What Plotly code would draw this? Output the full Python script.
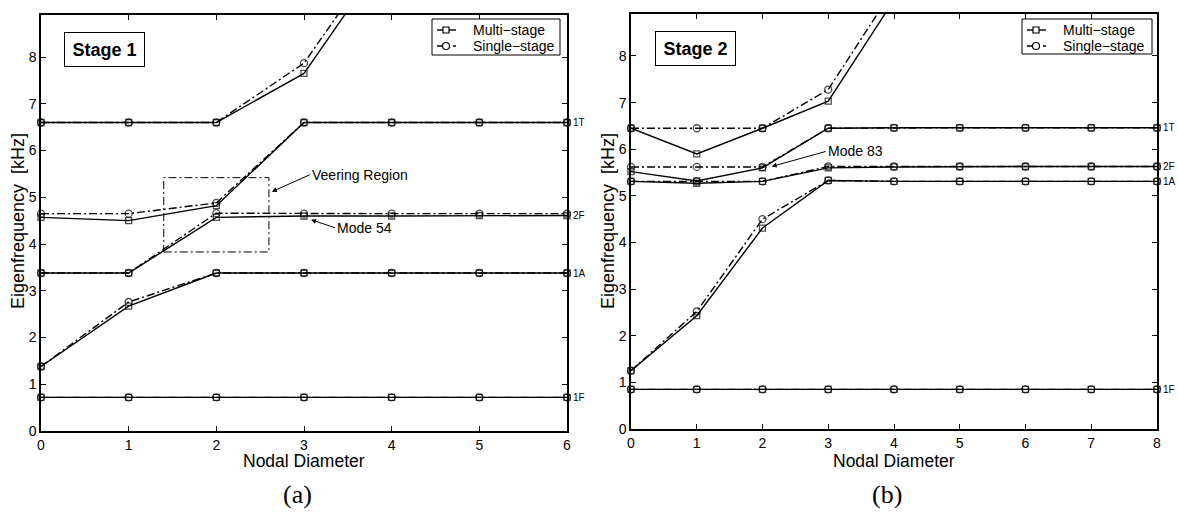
import plotly.graph_objects as go

# ---- Stage 1 eigenfrequencies [kHz] vs nodal diameter ----
s1_nd = [0, 1, 2, 3, 4, 5, 6]
s1_multi = [
    [0.72, 0.72, 0.72, 0.72, 0.72, 0.72, 0.72],
    [1.38, 2.67, 3.38, 3.38, 3.38, 3.38, 3.38],
    [3.38, 3.38, 4.57, 4.60, 4.60, 4.61, 4.61],
    [4.57, 4.50, 4.82, 6.60, 6.60, 6.60, 6.60],
    [6.60, 6.60, 6.60, 7.65, 10.35],
]
s1_single = [
    [0.72, 0.72, 0.72, 0.72, 0.72, 0.72, 0.72],
    [1.38, 2.76, 3.38, 3.38, 3.38, 3.38, 3.38],
    [3.38, 3.38, 4.66, 4.65, 4.65, 4.65, 4.65],
    [4.65, 4.65, 4.88, 6.60, 6.60, 6.60, 6.60],
    [6.60, 6.60, 6.60, 7.87, 10.55],
]

# ---- Stage 2 ----
s2_nd = [0, 1, 2, 3, 4, 5, 6, 7, 8]
s2_multi = [
    [0.85, 0.85, 0.85, 0.85, 0.85, 0.85, 0.85, 0.85, 0.85],
    [1.25, 2.43, 4.31, 5.33, 5.31, 5.31, 5.31, 5.31, 5.31],
    [5.31, 5.27, 5.31, 5.60, 5.62, 5.63, 5.63, 5.63, 5.63],
    [5.52, 5.32, 5.60, 6.45, 6.46, 6.46, 6.46, 6.46, 6.46],
    [6.45, 5.90, 6.45, 7.03, 9.20],
]
s2_single = [
    [0.85, 0.85, 0.85, 0.85, 0.85, 0.85, 0.85, 0.85, 0.85],
    [1.25, 2.52, 4.50, 5.33, 5.31, 5.31, 5.31, 5.31, 5.31],
    [5.31, 5.31, 5.31, 5.63, 5.63, 5.63, 5.63, 5.63, 5.63],
    [5.62, 5.62, 5.62, 6.45, 6.46, 6.46, 6.46, 6.46, 6.46],
    [6.45, 6.45, 6.45, 7.28, 9.45],
]

# family labels at the right edge, from the lowest curve upward
mode_labels = ["1F", "1A", "2F", "1T"]
series_names = ["Multi\u2212stage", "Single\u2212stage"]

Y_MAX = 8.9
W, H = 1178, 513
FONT = "Liberation Sans, Arial, Helvetica, sans-serif"
DASHDOT = "8px,3px,2px,3px"
LINE_W = 1.4


def px(x):
    return x / W


def py(y):
    return 1 - y / H


fig = go.Figure()


def add_series(nd, curves, name, symbol, size, dash, xa, ya):
    for vals in curves:
        xs = nd[:len(vals)]
        sizes = [size if v <= Y_MAX else 0 for v in vals]
        fig.add_trace(go.Scatter(
            x=xs, y=vals, mode="lines+markers", name=name,
            line=dict(color="black", width=LINE_W, dash=dash),
            marker=dict(symbol=symbol, size=sizes, color="black",
                        line=dict(color="black", width=1.3)),
            xaxis=xa, yaxis=ya, cliponaxis=False, showlegend=False,
        ))


add_series(s1_nd, s1_multi, series_names[0], "square-open", 6, "solid", "x", "y")
add_series(s1_nd, s1_single, series_names[1], "circle-open", 7, DASHDOT, "x", "y")
add_series(s2_nd, s2_multi, series_names[0], "square-open", 6, "solid", "x2", "y2")
add_series(s2_nd, s2_single, series_names[1], "circle-open", 7, DASHDOT, "x2", "y2")

axis_common = dict(
    showline=True, linecolor="black", linewidth=1.5, mirror="allticks",
    ticks="inside", ticklen=5, tickwidth=1, tickcolor="black",
    showgrid=False, zeroline=False, automargin=False,
    tickfont=dict(size=14, family=FONT, color="black"),
)

left_dom = [px(41), px(567)]
right_dom = [px(631), px(1157)]
y_dom1 = [py(431), py(15)]
y_dom2 = [py(429), py(14)]

fig.update_layout(
    template="none",
    width=W, height=H,
    margin=dict(l=0, r=0, t=0, b=0, autoexpand=False),
    paper_bgcolor="white", plot_bgcolor="white",
    font=dict(family=FONT, color="black"),
    showlegend=False,
    xaxis=dict(domain=left_dom, range=[0, 6], dtick=1, anchor="y", **axis_common),
    yaxis=dict(domain=y_dom1, range=[0, Y_MAX], dtick=1, anchor="x", **axis_common),
    xaxis2=dict(domain=right_dom, range=[0, 8], dtick=1, anchor="y2", **axis_common),
    yaxis2=dict(domain=y_dom2, range=[0, Y_MAX], dtick=1, anchor="x2", **axis_common),
)

shapes = []
# veering region box
shapes.append(dict(type="rect", xref="x", yref="y", x0=1.40, x1=2.60, y0=3.83, y1=5.42,
                   line=dict(color="black", width=1, dash=DASHDOT)))

ann = []


def legend_box(left, top, right, bottom):
    """Framed key: solid line with square, dash-dot line with circle."""
    shapes.append(dict(type="rect", xref="paper", yref="paper",
                       x0=px(left), x1=px(right), y0=py(bottom), y1=py(top),
                       line=dict(color="black", width=1), fillcolor="white", layer="above"))
    rows = [(top + 11, "solid", "square"), (top + 27, DASHDOT, "circle")]
    for (yc, dash, sym), name in zip(rows, series_names):
        shapes.append(dict(type="line", xref="paper", yref="paper",
                           x0=px(left + 5), x1=px(left + 24), y0=py(yc), y1=py(yc),
                           line=dict(color="black", width=LINE_W, dash=dash)))
        r = 3 if sym == "square" else 3.5
        cx = left + 14
        shapes.append(dict(type="rect" if sym == "square" else "circle",
                           xref="paper", yref="paper",
                           x0=px(cx - r), x1=px(cx + r), y0=py(yc + r), y1=py(yc - r),
                           line=dict(color="black", width=1.2), fillcolor="white"))
        ann.append(dict(text=name, x=px(left + 39), y=py(yc), xref="paper", yref="paper",
                        xanchor="left", yanchor="middle", showarrow=False,
                        font=dict(size=14, family=FONT)))


legend_box(432, 19, 560, 55)
legend_box(1022, 19, 1152, 54)

centred = dict(xref="paper", yref="paper", xanchor="center", yanchor="middle", showarrow=False)
# axis titles
for xc, yc in [(18, 221), (608, 221)]:
    ann.append(dict(text="Eigenfrequency  [kHz]", x=px(xc), y=py(yc), textangle=-90,
                    font=dict(size=18, family=FONT), **centred))
for xc in [304, 894]:
    ann.append(dict(text="Nodal Diameter", x=px(xc), y=py(461),
                    font=dict(size=17.5, family=FONT), **centred))
# panel captions
for xc, t in [(297, "(a)"), (887, "(b)")]:
    ann.append(dict(text=t, x=px(xc), y=py(494),
                    font=dict(size=26, family="Liberation Serif, Times New Roman, serif"),
                    **centred))
# stage boxes
for xl, yt, t in [(64, 32, "Stage 1"), (655, 31, "Stage 2")]:
    ann.append(dict(text="<b>%s</b>" % t, x=px(xl), y=py(yt), xref="paper", yref="paper",
                    xanchor="left", yanchor="top", showarrow=False, width=77, height=31,
                    bordercolor="black", borderwidth=1, bgcolor="white",
                    font=dict(size=18, family=FONT)))
# mode family labels at the right edges
for nd, curves, xr, yr in [(s1_nd, s1_multi, "x", "y"), (s2_nd, s2_multi, "x2", "y2")]:
    for lab, vals in zip(mode_labels, curves[:4]):
        ann.append(dict(text=lab, x=nd[-1], y=vals[-1], xref=xr, yref=yr, xanchor="left",
                        yanchor="middle", xshift=4, showarrow=False,
                        font=dict(size=10, family=FONT)))
# callouts
arrow = dict(showarrow=True, arrowhead=2, arrowsize=1, arrowwidth=1, arrowcolor="black",
             xanchor="left", yanchor="middle", font=dict(size=14, family=FONT))
ann.append(dict(text="Veering Region", x=2.634, y=5.12, xref="x", yref="y", ax=38, ay=-17, **arrow))
ann.append(dict(text="Mode 54", x=3.08, y=4.52, xref="x", yref="y", ax=24, ay=8, **arrow))
ann.append(dict(text="Mode 83", x=2.14, y=5.63, xref="x2", yref="y2", ax=54, ay=-15, **arrow))

fig.update_layout(annotations=ann, shapes=shapes)

fig.write_html("out.html")
